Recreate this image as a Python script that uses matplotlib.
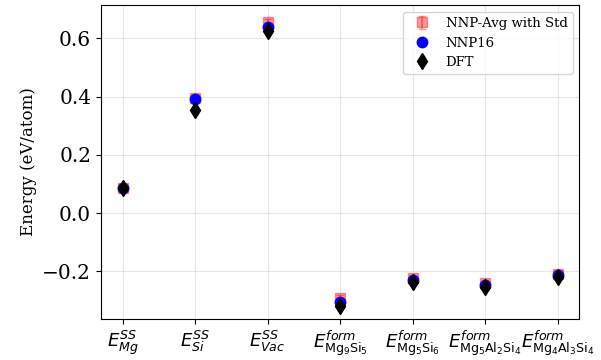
"""Energies of solute / vacancy and formation energies: NNP ensemble vs NNP16 vs DFT."""

import matplotlib
matplotlib.use("Agg")
import matplotlib.pyplot as plt
import numpy as np

labels = [
    r"$E^{SS}_{Mg}$",
    r"$E^{SS}_{Si}$",
    r"$E^{SS}_{Vac}$",
    r"$E^{form}_{\mathrm{Mg_9Si_5}}$",
    r"$E^{form}_{\mathrm{Mg_5Si_6}}$",
    r"$E^{form}_{\mathrm{Mg_5Al_2Si_4}}$",
    r"$E^{form}_{\mathrm{Mg_4Al_3Si_4}}$",
]
nnp_avg = [0.088, 0.395, 0.656, -0.290, -0.222, -0.239, -0.208]
nnp_std = [0.005, 0.005, 0.010, 0.010, 0.008, 0.007, 0.006]
nnp16 = [0.087, 0.392, 0.639, -0.304, -0.229, -0.246, -0.212]
dft = [0.088, 0.355, 0.625, -0.318, -0.236, -0.253, -0.219]

plt.rcParams["font.family"] = "DejaVu Serif"
plt.rcParams["mathtext.fontset"] = "dejavusans"

x = np.arange(len(labels))

fig, ax = plt.subplots(figsize=(6.01, 3.6), dpi=100)
h_avg = ax.errorbar(x, nnp_avg, yerr=nnp_std, fmt="s", color="red", alpha=0.4,
                    markersize=7.5, capsize=3, label="NNP-Avg with Std", zorder=2)
h_nnp, = ax.plot(x, nnp16, "o", color="blue", markersize=7.5, label="NNP16", zorder=3)
h_dft, = ax.plot(x, dft, "d", color="black", markersize=8.5, label="DFT", zorder=4)

ax.set_xticks(x)
ax.set_xticklabels(labels, fontsize=13)
ax.tick_params(axis="y", labelsize=14.5)
ax.set_ylabel("Energy (eV/atom)", fontsize=12)
ax.set_xlim(-0.3, 6.3)
ax.set_ylim(-0.363, 0.714)
ax.grid(True, alpha=0.3)
ax.legend(handles=[h_avg, h_nnp, h_dft], loc="upper right", fontsize=9.5)

fig.subplots_adjust(left=0.168, right=0.964, top=0.986, bottom=0.114)
fig.savefig("out.png", dpi=100)
